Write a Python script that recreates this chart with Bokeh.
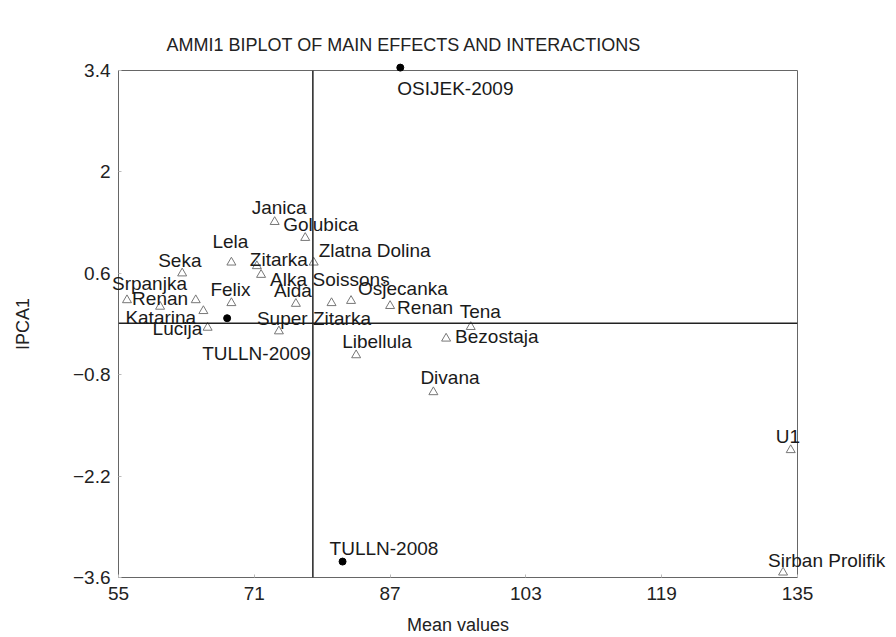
from bokeh.plotting import figure
from bokeh.models import ColumnDataSource, Span, FixedTicker, Range1d
from bokeh.core.properties import value
from bokeh.embed import file_html
from bokeh.resources import INLINE

# ---- data ----
genotypes = ["Janica", "Golubica", "Lela", "Zlatna Dolina", "Seka", "Zitarka", "Alka",
             "Soissons", "Osjecanka", "Aida", "Felix", "Renan", "Tena", "Bezostaja",
             "Libellula", "Divana", "U1", "Sirban Prolifik", "Super Zitarka", "Srpanjka",
             "Renan", "", "Katarina", "Lucija"]
geno_mean = [73.4, 77.0, 68.3, 78.0, 62.5, 71.3, 71.8,
             80.1, 82.4, 75.9, 68.3, 87.0, 96.5, 93.6,
             83.0, 92.1, 134.2, 133.3, 73.9, 56.0,
             59.9, 64.1, 65.0, 65.5]
geno_ipca1 = [1.31, 1.09, 0.75, 0.75, 0.60, 0.70, 0.58,
              0.19, 0.22, 0.18, 0.19, 0.15, -0.14, -0.30,
              -0.53, -1.04, -1.84, -3.53, -0.20, 0.23,
              0.14, 0.23, 0.08, -0.15]

environments = ["OSIJEK-2009", "TULLN-2008", "TULLN-2009"]
env_mean = [88.2, 81.4, 67.8]
env_ipca1 = [3.44, -3.38, -0.02]

grand_mean = 77.9
ipca_zero_line = -0.09

x_ticks = [55, 71, 87, 103, 119, 135]
y_ticks = [3.4, 2, 0.6, -0.8, -2.2, -3.6]
y_tick_labels = ["3.4", "2", "0.6", "-0.8", "-2.2", "-3.6"]

# ---- label placement (screen pixels: left edge / vertical centre relative to the point, down = +) ----
geno_label_dx = [-23, -22, -19, 5, -24, -7, 9, -19, 7, -22, -21, 7, -11, 9,
                 -14, -13, -15, -15, -22, -15, -28, 0, -78, -55]
geno_label_dy = [-14, -13, -21, -12, -13, -7, 5, -23, -12, -13, -13, 2, -15, -2,
                 -14, -15, -14, -12, -13, -17, -8, 0, 7, 1]
env_label_dx = [-3, -13, -25]
env_label_dy = [21, -13, 35]

FONT = "Liberation Sans"

p = figure(width=888, height=637,
           x_range=Range1d(55, 135), y_range=Range1d(-3.6, 3.4),
           output_backend="svg", toolbar_location=None,
           min_border_left=118, min_border_right=91,
           min_border_top=70, min_border_bottom=58,
           background_fill_color="white", border_fill_color="white")

p.title.text = "AMMI1 BIPLOT OF MAIN EFFECTS AND INTERACTIONS"
p.title.align = "left"
p.title.offset = 48
p.title.standoff = 31
p.title.text_font = FONT
p.title.text_font_size = "18px"
p.title.text_font_style = "normal"
p.title.text_color = "#222222"

p.xgrid.visible = False
p.ygrid.visible = False
p.outline_line_color = "#666666"
p.outline_line_width = 1

for ax in (p.xaxis[0], p.yaxis[0]):
    ax.axis_line_color = None
    ax.major_tick_in = 3
    ax.major_tick_out = 0
    ax.major_tick_line_color = "#bbbbbb"
    ax.minor_tick_line_color = None
    ax.major_label_text_font = FONT
    ax.major_label_text_font_size = "19px"
    ax.major_label_text_color = "#222222"
    ax.axis_label_text_font = FONT
    ax.axis_label_text_font_size = "18px"
    ax.axis_label_text_font_style = "normal"
    ax.axis_label_text_color = "#222222"

p.xaxis.ticker = FixedTicker(ticks=x_ticks)
p.yaxis.ticker = FixedTicker(ticks=y_ticks)
p.yaxis.major_label_overrides = {str(t): s for t, s in zip(y_ticks, y_tick_labels)}
p.xaxis.axis_label = "Mean values"
p.yaxis.axis_label = "IPCA1"
p.xaxis.major_label_standoff = 9
p.xaxis.axis_label_standoff = 12
p.yaxis.major_label_standoff = 8
p.yaxis.axis_label_standoff = 37

p.add_layout(Span(location=grand_mean, dimension="height", line_color="#222222", line_width=1.5))
p.add_layout(Span(location=ipca_zero_line, dimension="width", line_color="#222222", line_width=1.5))

gsrc = ColumnDataSource(dict(x=geno_mean, y=geno_ipca1, name=genotypes,
                             dx=geno_label_dx, dy=geno_label_dy))
esrc = ColumnDataSource(dict(x=env_mean, y=env_ipca1, name=environments,
                             dx=env_label_dx, dy=env_label_dy))

p.scatter("x", "y", source=gsrc, marker="triangle", size=9,
          fill_color=None, line_color="#777777", line_width=1)
p.scatter("x", "y", source=esrc, marker="circle", size=7,
          fill_color="black", line_color="black", level="overlay")

for src in (gsrc, esrc):
    p.text("x", "y", text="name", source=src, x_offset="dx", y_offset="dy",
           text_align="left", text_baseline="middle",
           text_font=value(FONT), text_font_size="19px",
           text_color="#1a1a1a", level="overlay")

open("out.html", "w").write(file_html(p, INLINE))
